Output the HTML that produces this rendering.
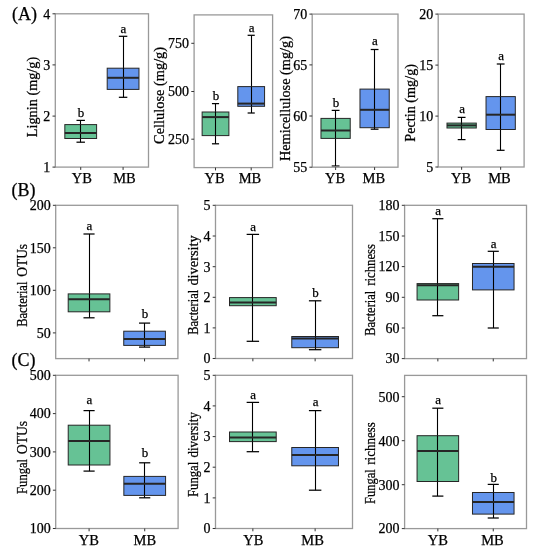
<!DOCTYPE html>
<html><head><meta charset="utf-8"><style>
html,body{margin:0;padding:0;background:#fff;}
svg{display:block;will-change:transform;}
text{font-family:"Liberation Serif", serif;fill:#000;stroke:#000;stroke-width:0.25px;}
</style></head><body>
<svg width="533" height="550" viewBox="0 0 533 550">
<rect width="533" height="550" fill="#fff"/>
<line x1="80.5" y1="120.4" x2="80.5" y2="142.2" stroke="#000000" stroke-width="1.1"/>
<line x1="76.48" y1="120.4" x2="84.95" y2="120.4" stroke="#000000" stroke-width="1.25"/>
<line x1="76.48" y1="142.2" x2="84.95" y2="142.2" stroke="#000000" stroke-width="1.25"/>
<rect x="64.83" y="124.6" width="31.77" height="13.9" fill="#66c295" stroke="#262626" stroke-width="1"/>
<line x1="80.5" y1="124.6" x2="80.5" y2="138.5" stroke="#000000" stroke-width="1.1"/>
<line x1="64.83" y1="133" x2="96.6" y2="133" stroke="#262626" stroke-width="2"/>
<text x="81.12" y="116.8" text-anchor="middle" font-size="13">b</text>
<line x1="123.5" y1="36.3" x2="123.5" y2="97.3" stroke="#000000" stroke-width="1.1"/>
<line x1="118.85" y1="36.3" x2="127.32" y2="36.3" stroke="#000000" stroke-width="1.25"/>
<line x1="118.85" y1="97.3" x2="127.32" y2="97.3" stroke="#000000" stroke-width="1.25"/>
<rect x="107.2" y="68.2" width="31.77" height="21.2" fill="#6495ed" stroke="#262626" stroke-width="1"/>
<line x1="123.5" y1="68.2" x2="123.5" y2="89.4" stroke="#000000" stroke-width="1.1"/>
<line x1="107.2" y1="77.8" x2="138.97" y2="77.8" stroke="#262626" stroke-width="2"/>
<text x="123.48" y="32.8" text-anchor="middle" font-size="13">a</text>
<rect x="55.3" y="13.8" width="93.2" height="153.3" fill="none" stroke="#999999" stroke-width="1.3"/>
<line x1="52.5" y1="13.8" x2="55.3" y2="13.8" stroke="#333333" stroke-width="1"/>
<text x="50.3" y="18.6" text-anchor="end" font-size="14">4</text>
<line x1="52.5" y1="64.9" x2="55.3" y2="64.9" stroke="#333333" stroke-width="1"/>
<text x="50.3" y="69.7" text-anchor="end" font-size="14">3</text>
<line x1="52.5" y1="116.1" x2="55.3" y2="116.1" stroke="#333333" stroke-width="1"/>
<text x="50.3" y="120.9" text-anchor="end" font-size="14">2</text>
<line x1="52.5" y1="167.1" x2="55.3" y2="167.1" stroke="#333333" stroke-width="1"/>
<text x="50.3" y="171.9" text-anchor="end" font-size="14">1</text>
<line x1="80.72" y1="167.1" x2="80.72" y2="169.9" stroke="#333333" stroke-width="1"/>
<line x1="123.08" y1="167.1" x2="123.08" y2="169.9" stroke="#333333" stroke-width="1"/>
<text x="81.95" y="183.2" text-anchor="middle" font-size="14.5">YB</text>
<text x="124.5" y="183.2" text-anchor="middle" font-size="14.5">MB</text>
<text transform="translate(36.5,137.2) rotate(-90)" x="0" y="0" font-size="14.3" textLength="80.4" lengthAdjust="spacingAndGlyphs">Lignin (mg/g)</text>
<line x1="215.5" y1="103.6" x2="215.5" y2="143.8" stroke="#000000" stroke-width="1.1"/>
<line x1="211.94" y1="103.6" x2="219.08" y2="103.6" stroke="#000000" stroke-width="1.25"/>
<line x1="211.94" y1="143.8" x2="219.08" y2="143.8" stroke="#000000" stroke-width="1.25"/>
<rect x="202.13" y="112" width="26.76" height="23.6" fill="#66c295" stroke="#262626" stroke-width="1"/>
<line x1="215.5" y1="112" x2="215.5" y2="135.6" stroke="#000000" stroke-width="1.1"/>
<line x1="202.13" y1="117.1" x2="228.89" y2="117.1" stroke="#262626" stroke-width="2"/>
<text x="215.91" y="100.3" text-anchor="middle" font-size="13">b</text>
<line x1="251.5" y1="35.3" x2="251.5" y2="113" stroke="#000000" stroke-width="1.1"/>
<line x1="247.62" y1="35.3" x2="254.76" y2="35.3" stroke="#000000" stroke-width="1.25"/>
<line x1="247.62" y1="113" x2="254.76" y2="113" stroke="#000000" stroke-width="1.25"/>
<rect x="237.81" y="86.6" width="26.76" height="19.7" fill="#6495ed" stroke="#262626" stroke-width="1"/>
<line x1="251.5" y1="86.6" x2="251.5" y2="106.3" stroke="#000000" stroke-width="1.1"/>
<line x1="237.81" y1="103.6" x2="264.57" y2="103.6" stroke="#262626" stroke-width="2"/>
<text x="251.59" y="31.6" text-anchor="middle" font-size="13">a</text>
<rect x="194.1" y="14.9" width="78.5" height="152.7" fill="none" stroke="#999999" stroke-width="1.3"/>
<line x1="191.3" y1="43.3" x2="194.1" y2="43.3" stroke="#333333" stroke-width="1"/>
<text x="189.1" y="48.1" text-anchor="end" font-size="14">750</text>
<line x1="191.3" y1="91.5" x2="194.1" y2="91.5" stroke="#333333" stroke-width="1"/>
<text x="189.1" y="96.3" text-anchor="end" font-size="14">500</text>
<line x1="191.3" y1="139.2" x2="194.1" y2="139.2" stroke="#333333" stroke-width="1"/>
<text x="189.1" y="144" text-anchor="end" font-size="14">250</text>
<line x1="215.51" y1="167.6" x2="215.51" y2="170.4" stroke="#333333" stroke-width="1"/>
<line x1="251.19" y1="167.6" x2="251.19" y2="170.4" stroke="#333333" stroke-width="1"/>
<text x="214.5" y="183.2" text-anchor="middle" font-size="14.5">YB</text>
<text x="249.95" y="183.2" text-anchor="middle" font-size="14.5">MB</text>
<text transform="translate(163.8,143.9) rotate(-90)" x="0" y="0" font-size="14.3" textLength="97" lengthAdjust="spacingAndGlyphs">Cellulose (mg/g)</text>
<line x1="335.5" y1="110.4" x2="335.5" y2="166" stroke="#000000" stroke-width="1.1"/>
<line x1="331.7" y1="110.4" x2="339.5" y2="110.4" stroke="#000000" stroke-width="1.25"/>
<line x1="331.7" y1="166" x2="339.5" y2="166" stroke="#000000" stroke-width="1.25"/>
<rect x="320.97" y="118.4" width="29.25" height="20" fill="#66c295" stroke="#262626" stroke-width="1"/>
<line x1="335.5" y1="118.4" x2="335.5" y2="138.4" stroke="#000000" stroke-width="1.1"/>
<line x1="320.97" y1="130.5" x2="350.22" y2="130.5" stroke="#262626" stroke-width="2"/>
<text x="336" y="107.2" text-anchor="middle" font-size="13">b</text>
<line x1="374.5" y1="49.5" x2="374.5" y2="129.2" stroke="#000000" stroke-width="1.1"/>
<line x1="370.7" y1="49.5" x2="378.5" y2="49.5" stroke="#000000" stroke-width="1.25"/>
<line x1="370.7" y1="129.2" x2="378.5" y2="129.2" stroke="#000000" stroke-width="1.25"/>
<rect x="359.98" y="89.1" width="29.25" height="38.6" fill="#6495ed" stroke="#262626" stroke-width="1"/>
<line x1="374.5" y1="89.1" x2="374.5" y2="127.7" stroke="#000000" stroke-width="1.1"/>
<line x1="359.98" y1="109.8" x2="389.23" y2="109.8" stroke="#262626" stroke-width="2"/>
<text x="375" y="45.3" text-anchor="middle" font-size="13">a</text>
<rect x="312.2" y="14.1" width="85.8" height="153.1" fill="none" stroke="#999999" stroke-width="1.3"/>
<line x1="309.4" y1="14.1" x2="312.2" y2="14.1" stroke="#333333" stroke-width="1"/>
<text x="307.2" y="18.9" text-anchor="end" font-size="14">70</text>
<line x1="309.4" y1="64.9" x2="312.2" y2="64.9" stroke="#333333" stroke-width="1"/>
<text x="307.2" y="69.7" text-anchor="end" font-size="14">65</text>
<line x1="309.4" y1="116" x2="312.2" y2="116" stroke="#333333" stroke-width="1"/>
<text x="307.2" y="120.8" text-anchor="end" font-size="14">60</text>
<line x1="309.4" y1="167.2" x2="312.2" y2="167.2" stroke="#333333" stroke-width="1"/>
<text x="307.2" y="172" text-anchor="end" font-size="14">55</text>
<line x1="335.6" y1="167.2" x2="335.6" y2="170" stroke="#333333" stroke-width="1"/>
<line x1="374.6" y1="167.2" x2="374.6" y2="170" stroke="#333333" stroke-width="1"/>
<text x="335.1" y="183.2" text-anchor="middle" font-size="14.5">YB</text>
<text x="373.8" y="183.2" text-anchor="middle" font-size="14.5">MB</text>
<text transform="translate(289.5,161.1) rotate(-90)" x="0" y="0" font-size="14.3" textLength="125.1" lengthAdjust="spacingAndGlyphs">Hemicellulose (mg/g)</text>
<line x1="461.5" y1="117.4" x2="461.5" y2="139.6" stroke="#000000" stroke-width="1.1"/>
<line x1="457.72" y1="117.4" x2="465.53" y2="117.4" stroke="#000000" stroke-width="1.25"/>
<line x1="457.72" y1="139.6" x2="465.53" y2="139.6" stroke="#000000" stroke-width="1.25"/>
<rect x="446.99" y="123.1" width="29.28" height="4.9" fill="#66c295" stroke="#262626" stroke-width="1"/>
<line x1="461.5" y1="123.1" x2="461.5" y2="128" stroke="#000000" stroke-width="1.1"/>
<line x1="446.99" y1="125.4" x2="476.27" y2="125.4" stroke="#262626" stroke-width="2"/>
<text x="462.03" y="113.2" text-anchor="middle" font-size="13">a</text>
<line x1="500.5" y1="64" x2="500.5" y2="150.3" stroke="#000000" stroke-width="1.1"/>
<line x1="496.77" y1="64" x2="504.58" y2="64" stroke="#000000" stroke-width="1.25"/>
<line x1="496.77" y1="150.3" x2="504.58" y2="150.3" stroke="#000000" stroke-width="1.25"/>
<rect x="486.03" y="96.6" width="29.28" height="32.9" fill="#6495ed" stroke="#262626" stroke-width="1"/>
<line x1="500.5" y1="96.6" x2="500.5" y2="129.5" stroke="#000000" stroke-width="1.1"/>
<line x1="486.03" y1="114.7" x2="515.31" y2="114.7" stroke="#262626" stroke-width="2"/>
<text x="501.07" y="59.8" text-anchor="middle" font-size="13">a</text>
<rect x="438.2" y="14.1" width="85.9" height="152.9" fill="none" stroke="#999999" stroke-width="1.3"/>
<line x1="435.4" y1="14.1" x2="438.2" y2="14.1" stroke="#333333" stroke-width="1"/>
<text x="433.2" y="18.9" text-anchor="end" font-size="14">20</text>
<line x1="435.4" y1="65.1" x2="438.2" y2="65.1" stroke="#333333" stroke-width="1"/>
<text x="433.2" y="69.9" text-anchor="end" font-size="14">15</text>
<line x1="435.4" y1="116.1" x2="438.2" y2="116.1" stroke="#333333" stroke-width="1"/>
<text x="433.2" y="120.9" text-anchor="end" font-size="14">10</text>
<line x1="435.4" y1="167" x2="438.2" y2="167" stroke="#333333" stroke-width="1"/>
<text x="433.2" y="171.8" text-anchor="end" font-size="14">5</text>
<line x1="461.63" y1="167" x2="461.63" y2="169.8" stroke="#333333" stroke-width="1"/>
<line x1="500.67" y1="167" x2="500.67" y2="169.8" stroke="#333333" stroke-width="1"/>
<text x="461" y="183.2" text-anchor="middle" font-size="14.5">YB</text>
<text x="499.45" y="183.2" text-anchor="middle" font-size="14.5">MB</text>
<text transform="translate(414.7,141.7) rotate(-90)" x="0" y="0" font-size="14.3" textLength="77.7" lengthAdjust="spacingAndGlyphs">Pectin (mg/g)</text>
<line x1="89.5" y1="234" x2="89.5" y2="317.8" stroke="#000000" stroke-width="1.1"/>
<line x1="83.47" y1="234" x2="94.58" y2="234" stroke="#000000" stroke-width="1.25"/>
<line x1="83.47" y1="317.8" x2="94.58" y2="317.8" stroke="#000000" stroke-width="1.25"/>
<rect x="68.2" y="293.9" width="41.66" height="17.9" fill="#66c295" stroke="#262626" stroke-width="1"/>
<line x1="89.5" y1="293.9" x2="89.5" y2="311.8" stroke="#000000" stroke-width="1.1"/>
<line x1="68.2" y1="299.2" x2="109.86" y2="299.2" stroke="#262626" stroke-width="2"/>
<text x="89.43" y="230" text-anchor="middle" font-size="13">a</text>
<line x1="144.5" y1="323.1" x2="144.5" y2="347.1" stroke="#000000" stroke-width="1.1"/>
<line x1="139.02" y1="323.1" x2="150.13" y2="323.1" stroke="#000000" stroke-width="1.25"/>
<line x1="139.02" y1="347.1" x2="150.13" y2="347.1" stroke="#000000" stroke-width="1.25"/>
<rect x="123.74" y="331.2" width="41.66" height="14.2" fill="#6495ed" stroke="#262626" stroke-width="1"/>
<line x1="144.5" y1="331.2" x2="144.5" y2="345.4" stroke="#000000" stroke-width="1.1"/>
<line x1="123.74" y1="339" x2="165.4" y2="339" stroke="#262626" stroke-width="2"/>
<text x="144.97" y="317.8" text-anchor="middle" font-size="13">b</text>
<rect x="55.7" y="205.3" width="122.2" height="153.3" fill="none" stroke="#999999" stroke-width="1.3"/>
<line x1="52.9" y1="205.3" x2="55.7" y2="205.3" stroke="#333333" stroke-width="1"/>
<text x="50.7" y="210.1" text-anchor="end" font-size="14">200</text>
<line x1="52.9" y1="247.8" x2="55.7" y2="247.8" stroke="#333333" stroke-width="1"/>
<text x="50.7" y="252.6" text-anchor="end" font-size="14">150</text>
<line x1="52.9" y1="290.3" x2="55.7" y2="290.3" stroke="#333333" stroke-width="1"/>
<text x="50.7" y="295.1" text-anchor="end" font-size="14">100</text>
<line x1="52.9" y1="332.9" x2="55.7" y2="332.9" stroke="#333333" stroke-width="1"/>
<text x="50.7" y="337.7" text-anchor="end" font-size="14">50</text>
<line x1="89.03" y1="358.6" x2="89.03" y2="361.4" stroke="#333333" stroke-width="1"/>
<line x1="144.57" y1="358.6" x2="144.57" y2="361.4" stroke="#333333" stroke-width="1"/>
<text transform="translate(26.7,326.8) rotate(-90)" x="0" y="0" font-size="14.4" textLength="45.2" lengthAdjust="spacingAndGlyphs">Bacterial</text>
<text transform="translate(26.7,276.7) rotate(-90)" x="0" y="0" font-size="14.4" textLength="32.8" lengthAdjust="spacingAndGlyphs">OTUs</text>
<line x1="252.5" y1="234.4" x2="252.5" y2="341.3" stroke="#000000" stroke-width="1.1"/>
<line x1="246.64" y1="234.4" x2="259.09" y2="234.4" stroke="#000000" stroke-width="1.25"/>
<line x1="246.64" y1="341.3" x2="259.09" y2="341.3" stroke="#000000" stroke-width="1.25"/>
<rect x="229.51" y="297.6" width="46.7" height="8.1" fill="#66c295" stroke="#262626" stroke-width="1"/>
<line x1="252.5" y1="297.6" x2="252.5" y2="305.7" stroke="#000000" stroke-width="1.1"/>
<line x1="229.51" y1="302.5" x2="276.22" y2="302.5" stroke="#262626" stroke-width="2"/>
<text x="253.26" y="231.2" text-anchor="middle" font-size="13">a</text>
<line x1="315.5" y1="300.8" x2="315.5" y2="349.7" stroke="#000000" stroke-width="1.1"/>
<line x1="308.91" y1="300.8" x2="321.36" y2="300.8" stroke="#000000" stroke-width="1.25"/>
<line x1="308.91" y1="349.7" x2="321.36" y2="349.7" stroke="#000000" stroke-width="1.25"/>
<rect x="291.78" y="336.5" width="46.7" height="11.2" fill="#6495ed" stroke="#262626" stroke-width="1"/>
<line x1="315.5" y1="336.5" x2="315.5" y2="347.7" stroke="#000000" stroke-width="1.1"/>
<line x1="291.78" y1="338.5" x2="338.49" y2="338.5" stroke="#262626" stroke-width="2"/>
<text x="315.54" y="296.5" text-anchor="middle" font-size="13">b</text>
<rect x="215.5" y="205.3" width="137" height="153.2" fill="none" stroke="#999999" stroke-width="1.3"/>
<line x1="212.7" y1="205.3" x2="215.5" y2="205.3" stroke="#333333" stroke-width="1"/>
<text x="210.5" y="210.1" text-anchor="end" font-size="14">5</text>
<line x1="212.7" y1="236" x2="215.5" y2="236" stroke="#333333" stroke-width="1"/>
<text x="210.5" y="240.8" text-anchor="end" font-size="14">4</text>
<line x1="212.7" y1="266.7" x2="215.5" y2="266.7" stroke="#333333" stroke-width="1"/>
<text x="210.5" y="271.5" text-anchor="end" font-size="14">3</text>
<line x1="212.7" y1="297.3" x2="215.5" y2="297.3" stroke="#333333" stroke-width="1"/>
<text x="210.5" y="302.1" text-anchor="end" font-size="14">2</text>
<line x1="212.7" y1="327.9" x2="215.5" y2="327.9" stroke="#333333" stroke-width="1"/>
<text x="210.5" y="332.7" text-anchor="end" font-size="14">1</text>
<line x1="212.7" y1="358.5" x2="215.5" y2="358.5" stroke="#333333" stroke-width="1"/>
<text x="210.5" y="363.3" text-anchor="end" font-size="14">0</text>
<line x1="252.86" y1="358.5" x2="252.86" y2="361.3" stroke="#333333" stroke-width="1"/>
<line x1="315.14" y1="358.5" x2="315.14" y2="361.3" stroke="#333333" stroke-width="1"/>
<text transform="translate(197.7,334.7) rotate(-90)" x="0" y="0" font-size="14.4" textLength="44.9" lengthAdjust="spacingAndGlyphs">Bacterial</text>
<text transform="translate(197.7,285.6) rotate(-90)" x="0" y="0" font-size="14.4" textLength="50.3" lengthAdjust="spacingAndGlyphs">diversity</text>
<line x1="437.5" y1="218.7" x2="437.5" y2="315.7" stroke="#000000" stroke-width="1.1"/>
<line x1="432.3" y1="218.7" x2="443.39" y2="218.7" stroke="#000000" stroke-width="1.25"/>
<line x1="432.3" y1="315.7" x2="443.39" y2="315.7" stroke="#000000" stroke-width="1.25"/>
<rect x="417.07" y="283.6" width="41.56" height="16.4" fill="#66c295" stroke="#262626" stroke-width="1"/>
<line x1="437.5" y1="283.6" x2="437.5" y2="300" stroke="#000000" stroke-width="1.1"/>
<line x1="417.07" y1="285.3" x2="458.62" y2="285.3" stroke="#262626" stroke-width="2"/>
<text x="438.25" y="214.6" text-anchor="middle" font-size="13">a</text>
<line x1="493.5" y1="251.3" x2="493.5" y2="328" stroke="#000000" stroke-width="1.1"/>
<line x1="487.71" y1="251.3" x2="498.8" y2="251.3" stroke="#000000" stroke-width="1.25"/>
<line x1="487.71" y1="328" x2="498.8" y2="328" stroke="#000000" stroke-width="1.25"/>
<rect x="472.48" y="263.5" width="41.56" height="26.4" fill="#6495ed" stroke="#262626" stroke-width="1"/>
<line x1="493.5" y1="263.5" x2="493.5" y2="289.9" stroke="#000000" stroke-width="1.1"/>
<line x1="472.48" y1="266.7" x2="514.03" y2="266.7" stroke="#262626" stroke-width="2"/>
<text x="493.65" y="247.8" text-anchor="middle" font-size="13">a</text>
<rect x="404.6" y="205.3" width="121.9" height="153.3" fill="none" stroke="#999999" stroke-width="1.3"/>
<line x1="401.8" y1="205.3" x2="404.6" y2="205.3" stroke="#333333" stroke-width="1"/>
<text x="399.6" y="210.1" text-anchor="end" font-size="14">180</text>
<line x1="401.8" y1="236" x2="404.6" y2="236" stroke="#333333" stroke-width="1"/>
<text x="399.6" y="240.8" text-anchor="end" font-size="14">150</text>
<line x1="401.8" y1="266.6" x2="404.6" y2="266.6" stroke="#333333" stroke-width="1"/>
<text x="399.6" y="271.4" text-anchor="end" font-size="14">120</text>
<line x1="401.8" y1="297.3" x2="404.6" y2="297.3" stroke="#333333" stroke-width="1"/>
<text x="399.6" y="302.1" text-anchor="end" font-size="14">90</text>
<line x1="401.8" y1="328" x2="404.6" y2="328" stroke="#333333" stroke-width="1"/>
<text x="399.6" y="332.8" text-anchor="end" font-size="14">60</text>
<line x1="401.8" y1="358.6" x2="404.6" y2="358.6" stroke="#333333" stroke-width="1"/>
<text x="399.6" y="363.4" text-anchor="end" font-size="14">30</text>
<line x1="437.85" y1="358.6" x2="437.85" y2="361.4" stroke="#333333" stroke-width="1"/>
<line x1="493.25" y1="358.6" x2="493.25" y2="361.4" stroke="#333333" stroke-width="1"/>
<text transform="translate(374.7,335.8) rotate(-90)" x="0" y="0" font-size="14.4" textLength="45.1" lengthAdjust="spacingAndGlyphs">Bacterial</text>
<text transform="translate(374.7,285.8) rotate(-90)" x="0" y="0" font-size="14.4" textLength="41.8" lengthAdjust="spacingAndGlyphs">richness</text>
<line x1="89.5" y1="410.6" x2="89.5" y2="471.1" stroke="#000000" stroke-width="1.1"/>
<line x1="83.52" y1="410.6" x2="94.65" y2="410.6" stroke="#000000" stroke-width="1.25"/>
<line x1="83.52" y1="471.1" x2="94.65" y2="471.1" stroke="#000000" stroke-width="1.25"/>
<rect x="68.22" y="425.2" width="41.73" height="39.8" fill="#66c295" stroke="#262626" stroke-width="1"/>
<line x1="89.5" y1="425.2" x2="89.5" y2="465" stroke="#000000" stroke-width="1.1"/>
<line x1="68.22" y1="441.1" x2="109.95" y2="441.1" stroke="#262626" stroke-width="2"/>
<text x="89.48" y="404.4" text-anchor="middle" font-size="13">a</text>
<line x1="144.5" y1="462.8" x2="144.5" y2="497.8" stroke="#000000" stroke-width="1.1"/>
<line x1="139.15" y1="462.8" x2="150.28" y2="462.8" stroke="#000000" stroke-width="1.25"/>
<line x1="139.15" y1="497.8" x2="150.28" y2="497.8" stroke="#000000" stroke-width="1.25"/>
<rect x="123.85" y="476.4" width="41.73" height="19" fill="#6495ed" stroke="#262626" stroke-width="1"/>
<line x1="144.5" y1="476.4" x2="144.5" y2="495.4" stroke="#000000" stroke-width="1.1"/>
<line x1="123.85" y1="483.8" x2="165.58" y2="483.8" stroke="#262626" stroke-width="2"/>
<text x="145.12" y="456.8" text-anchor="middle" font-size="13">b</text>
<rect x="55.7" y="375.3" width="122.4" height="153.2" fill="none" stroke="#999999" stroke-width="1.3"/>
<line x1="52.9" y1="375.3" x2="55.7" y2="375.3" stroke="#333333" stroke-width="1"/>
<text x="50.7" y="380.1" text-anchor="end" font-size="14">500</text>
<line x1="52.9" y1="413.6" x2="55.7" y2="413.6" stroke="#333333" stroke-width="1"/>
<text x="50.7" y="418.4" text-anchor="end" font-size="14">400</text>
<line x1="52.9" y1="451.9" x2="55.7" y2="451.9" stroke="#333333" stroke-width="1"/>
<text x="50.7" y="456.7" text-anchor="end" font-size="14">300</text>
<line x1="52.9" y1="490.2" x2="55.7" y2="490.2" stroke="#333333" stroke-width="1"/>
<text x="50.7" y="495" text-anchor="end" font-size="14">200</text>
<line x1="52.9" y1="528.5" x2="55.7" y2="528.5" stroke="#333333" stroke-width="1"/>
<text x="50.7" y="533.3" text-anchor="end" font-size="14">100</text>
<line x1="89.08" y1="528.5" x2="89.08" y2="531.3" stroke="#333333" stroke-width="1"/>
<line x1="144.72" y1="528.5" x2="144.72" y2="531.3" stroke="#333333" stroke-width="1"/>
<text x="88.9" y="544.8" text-anchor="middle" font-size="14.5">YB</text>
<text x="144.8" y="544.8" text-anchor="middle" font-size="14.5">MB</text>
<text transform="translate(26.5,493.9) rotate(-90)" x="0" y="0" font-size="14.4" textLength="35" lengthAdjust="spacingAndGlyphs">Fungal</text>
<text transform="translate(26.5,454.2) rotate(-90)" x="0" y="0" font-size="14.4" textLength="33.3" lengthAdjust="spacingAndGlyphs">OTUs</text>
<line x1="252.5" y1="402.4" x2="252.5" y2="451.7" stroke="#000000" stroke-width="1.1"/>
<line x1="246.64" y1="402.4" x2="259.09" y2="402.4" stroke="#000000" stroke-width="1.25"/>
<line x1="246.64" y1="451.7" x2="259.09" y2="451.7" stroke="#000000" stroke-width="1.25"/>
<rect x="229.51" y="432" width="46.7" height="9.6" fill="#66c295" stroke="#262626" stroke-width="1"/>
<line x1="252.5" y1="432" x2="252.5" y2="441.6" stroke="#000000" stroke-width="1.1"/>
<line x1="229.51" y1="437.6" x2="276.22" y2="437.6" stroke="#262626" stroke-width="2"/>
<text x="253.26" y="398.9" text-anchor="middle" font-size="13">a</text>
<line x1="315.5" y1="410.6" x2="315.5" y2="490.2" stroke="#000000" stroke-width="1.1"/>
<line x1="308.91" y1="410.6" x2="321.36" y2="410.6" stroke="#000000" stroke-width="1.25"/>
<line x1="308.91" y1="490.2" x2="321.36" y2="490.2" stroke="#000000" stroke-width="1.25"/>
<rect x="291.78" y="447.5" width="46.7" height="18.3" fill="#6495ed" stroke="#262626" stroke-width="1"/>
<line x1="315.5" y1="447.5" x2="315.5" y2="465.8" stroke="#000000" stroke-width="1.1"/>
<line x1="291.78" y1="455.1" x2="338.49" y2="455.1" stroke="#262626" stroke-width="2"/>
<text x="315.54" y="406.3" text-anchor="middle" font-size="13">a</text>
<rect x="215.5" y="375.3" width="137" height="153.2" fill="none" stroke="#999999" stroke-width="1.3"/>
<line x1="212.7" y1="375.3" x2="215.5" y2="375.3" stroke="#333333" stroke-width="1"/>
<text x="210.5" y="380.1" text-anchor="end" font-size="14">5</text>
<line x1="212.7" y1="405.9" x2="215.5" y2="405.9" stroke="#333333" stroke-width="1"/>
<text x="210.5" y="410.7" text-anchor="end" font-size="14">4</text>
<line x1="212.7" y1="436.6" x2="215.5" y2="436.6" stroke="#333333" stroke-width="1"/>
<text x="210.5" y="441.4" text-anchor="end" font-size="14">3</text>
<line x1="212.7" y1="467.2" x2="215.5" y2="467.2" stroke="#333333" stroke-width="1"/>
<text x="210.5" y="472" text-anchor="end" font-size="14">2</text>
<line x1="212.7" y1="497.9" x2="215.5" y2="497.9" stroke="#333333" stroke-width="1"/>
<text x="210.5" y="502.7" text-anchor="end" font-size="14">1</text>
<line x1="212.7" y1="528.5" x2="215.5" y2="528.5" stroke="#333333" stroke-width="1"/>
<text x="210.5" y="533.3" text-anchor="end" font-size="14">0</text>
<line x1="252.86" y1="528.5" x2="252.86" y2="531.3" stroke="#333333" stroke-width="1"/>
<line x1="315.14" y1="528.5" x2="315.14" y2="531.3" stroke="#333333" stroke-width="1"/>
<text x="253.35" y="544.8" text-anchor="middle" font-size="14.5">YB</text>
<text x="312.65" y="544.8" text-anchor="middle" font-size="14.5">MB</text>
<text transform="translate(197.6,497) rotate(-90)" x="0" y="0" font-size="14.4" textLength="35.2" lengthAdjust="spacingAndGlyphs">Fungal</text>
<text transform="translate(197.6,457.6) rotate(-90)" x="0" y="0" font-size="14.4" textLength="45.5" lengthAdjust="spacingAndGlyphs">diversity</text>
<line x1="437.5" y1="408.2" x2="437.5" y2="496.1" stroke="#000000" stroke-width="1.1"/>
<line x1="432.3" y1="408.2" x2="443.39" y2="408.2" stroke="#000000" stroke-width="1.25"/>
<line x1="432.3" y1="496.1" x2="443.39" y2="496.1" stroke="#000000" stroke-width="1.25"/>
<rect x="417.07" y="435.7" width="41.56" height="45.8" fill="#66c295" stroke="#262626" stroke-width="1"/>
<line x1="437.5" y1="435.7" x2="437.5" y2="481.5" stroke="#000000" stroke-width="1.1"/>
<line x1="417.07" y1="451.1" x2="458.62" y2="451.1" stroke="#262626" stroke-width="2"/>
<text x="438.25" y="404.4" text-anchor="middle" font-size="13">a</text>
<line x1="493.5" y1="484.4" x2="493.5" y2="518" stroke="#000000" stroke-width="1.1"/>
<line x1="487.71" y1="484.4" x2="498.8" y2="484.4" stroke="#000000" stroke-width="1.25"/>
<line x1="487.71" y1="518" x2="498.8" y2="518" stroke="#000000" stroke-width="1.25"/>
<rect x="472.48" y="492.5" width="41.56" height="21.6" fill="#6495ed" stroke="#262626" stroke-width="1"/>
<line x1="493.5" y1="492.5" x2="493.5" y2="514.1" stroke="#000000" stroke-width="1.1"/>
<line x1="472.48" y1="502" x2="514.03" y2="502" stroke="#262626" stroke-width="2"/>
<text x="493.65" y="481.6" text-anchor="middle" font-size="13">b</text>
<rect x="404.6" y="375.4" width="121.9" height="153.2" fill="none" stroke="#999999" stroke-width="1.3"/>
<line x1="401.8" y1="396.7" x2="404.6" y2="396.7" stroke="#333333" stroke-width="1"/>
<text x="399.6" y="401.5" text-anchor="end" font-size="14">500</text>
<line x1="401.8" y1="440.7" x2="404.6" y2="440.7" stroke="#333333" stroke-width="1"/>
<text x="399.6" y="445.5" text-anchor="end" font-size="14">400</text>
<line x1="401.8" y1="484.7" x2="404.6" y2="484.7" stroke="#333333" stroke-width="1"/>
<text x="399.6" y="489.5" text-anchor="end" font-size="14">300</text>
<line x1="401.8" y1="528.6" x2="404.6" y2="528.6" stroke="#333333" stroke-width="1"/>
<text x="399.6" y="533.4" text-anchor="end" font-size="14">200</text>
<line x1="437.85" y1="528.6" x2="437.85" y2="531.4" stroke="#333333" stroke-width="1"/>
<line x1="493.25" y1="528.6" x2="493.25" y2="531.4" stroke="#333333" stroke-width="1"/>
<text x="437.9" y="544.8" text-anchor="middle" font-size="14.5">YB</text>
<text x="492.5" y="544.8" text-anchor="middle" font-size="14.5">MB</text>
<text transform="translate(374.7,504) rotate(-90)" x="0" y="0" font-size="14.4" textLength="34.7" lengthAdjust="spacingAndGlyphs">Fungal</text>
<text transform="translate(374.7,464.7) rotate(-90)" x="0" y="0" font-size="14.4" textLength="42.4" lengthAdjust="spacingAndGlyphs">richness</text>
<text x="12" y="20.4" font-size="18">(A)</text>
<text x="11.5" y="196.1" font-size="18">(B)</text>
<text x="11.5" y="366.1" font-size="18">(C)</text>
</svg>
</body></html>
